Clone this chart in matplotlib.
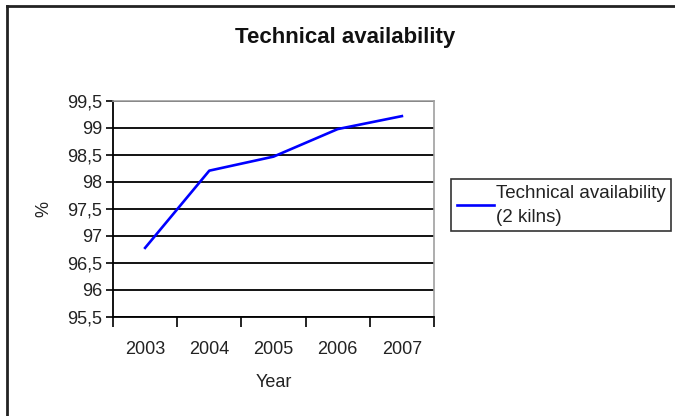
import matplotlib
matplotlib.use("Agg")
import matplotlib.pyplot as plt
from matplotlib.lines import Line2D

plt.rcParams["font.family"] = ["Liberation Sans", "DejaVu Sans"]

years = ["2003", "2004", "2005", "2006", "2007"]
availability = [96.78, 98.21, 98.47, 98.98, 99.22]
y_ticks = [95.5, 96, 96.5, 97, 97.5, 98, 98.5, 99, 99.5]

W, H = 675, 416
fig = plt.figure(figsize=(W / 100, H / 100), dpi=100)
fig.patch.set_facecolor("white")

# plot area in pixels: left 113, right 434, top 101, bottom 317
ax = fig.add_axes([113 / W, 1 - 317 / H, (434 - 113) / W, (317 - 101) / H])

x = list(range(len(years)))
ax.plot(x, availability, color="#0000ff", linewidth=1.9,
        label="Technical availability\n(2 kilns)")

ax.set_xlim(-0.5, len(years) - 0.5)
ax.set_ylim(y_ticks[0], y_ticks[-1])

# category ticks sit between the years, labels centered on years
ax.set_xticks([i - 0.5 for i in range(len(years) + 1)])
ax.set_xticklabels([])
ax.set_xticks(x, minor=True)
ax.set_xticklabels(years, minor=True)
ax.tick_params(axis="x", which="major", length=7, width=1.2, direction="out")
ax.tick_params(axis="x", which="minor", length=0, pad=17, labelsize=13,
               labelcolor="#222222")

ax.set_yticks(y_ticks)
ax.set_yticklabels([f"{v:g}".replace(".", ",") for v in y_ticks])
ax.tick_params(axis="y", length=5, width=1.2, direction="out", pad=3,
               labelsize=13, labelcolor="#222222")

ax.grid(axis="y", color="black", linewidth=1.3)
ax.set_axisbelow(True)

for side in ("left", "bottom"):
    ax.spines[side].set_color("black")
    ax.spines[side].set_linewidth(1.3)
for side in ("top", "right"):
    ax.spines[side].set_color("#a0a0a0")
    ax.spines[side].set_linewidth(1.2)

ax.set_xlabel("Year", fontsize=13, labelpad=12, color="#222222")
ax.set_ylabel("%", fontsize=13, labelpad=10, color="#222222")

fig.text(345 / W, 1 - 38 / H, "Technical availability", fontsize=16,
         fontweight="bold", ha="center", va="center", color="#111111")

leg = ax.legend(loc="upper left", bbox_to_anchor=(451 / W, 1 - 179 / H),
                bbox_transform=fig.transFigure, fontsize=13.5, frameon=True,
                fancybox=False, borderpad=0.3, handlelength=2.0,
                handletextpad=0.1, borderaxespad=0)
leg.get_frame().set_edgecolor("black")
leg.get_frame().set_linewidth(1.2)
for t in leg.get_texts():
    t.set_linespacing(1.55)
    t.set_color("#222222")

# outer chart border (top and left edges visible)
fig.add_artist(Line2D([7 / W, 7 / W], [0, 1 - 6 / H], color="#222222",
                      linewidth=2.0, transform=fig.transFigure))
fig.add_artist(Line2D([7 / W, 1], [1 - 6 / H, 1 - 6 / H], color="#222222",
                      linewidth=2.0, transform=fig.transFigure))

fig.savefig("out.png", dpi=100)
